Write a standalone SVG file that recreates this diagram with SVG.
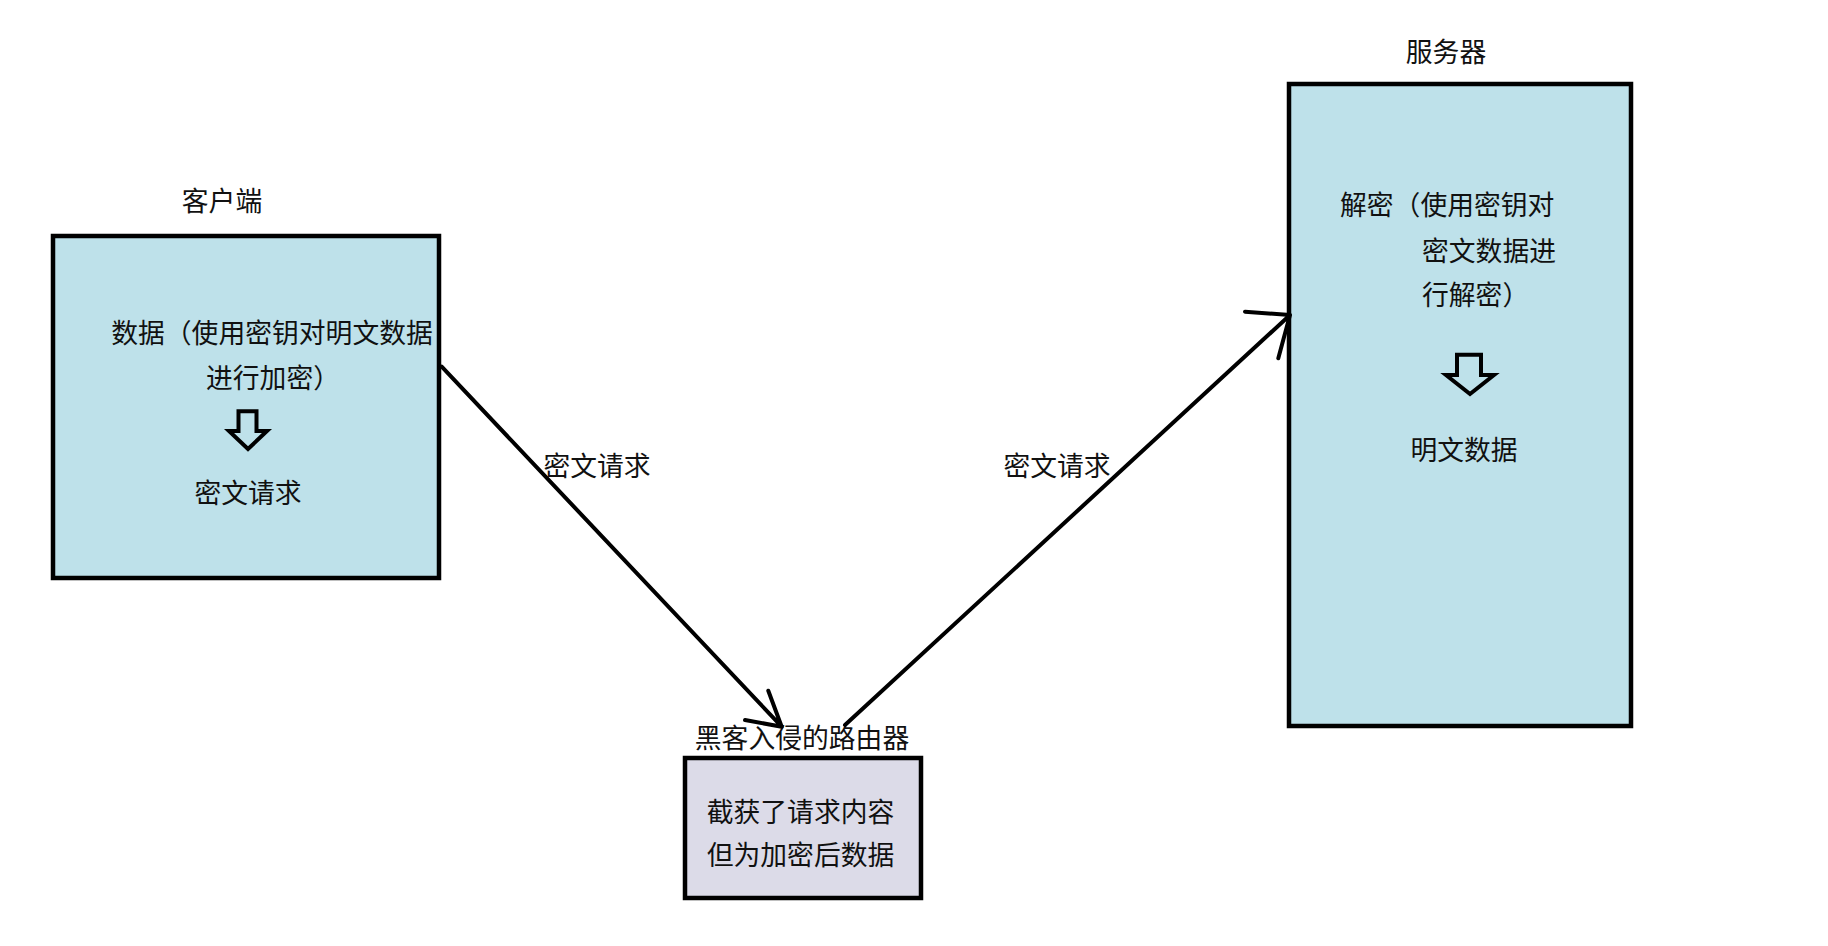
<svg xmlns="http://www.w3.org/2000/svg" width="1828" height="946" viewBox="0 0 1828 946">
<style>
text{font-family:"Noto Sans CJK SC","Noto Sans",sans-serif;font-size:26.8px;fill:#111}
.c{text-anchor:middle}
.box{stroke:#000;stroke-width:4.5}
.blue{fill:#bee1ea}
.lav{fill:#dcdbe8}
.harrow{fill:none;stroke:#000;stroke-width:4;stroke-linejoin:miter}
.conn{fill:none;stroke:#000;stroke-width:4;stroke-linecap:round;stroke-linejoin:round}
</style>
<rect width="1828" height="946" fill="#fff"/>
<g id="client">
<text class="c" x="222" y="211">客户端</text>
<rect class="box blue" x="53" y="236" width="386" height="342"/>
<text class="c" x="272" y="342.5">数据（使用密钥对明文数据</text>
<text class="c" x="273" y="388">进行加密）</text>
<polygon class="harrow" points="238.5,411.3 256.5,411.3 256.5,431 267,431 248,449 229,431 238.5,431"/>
<text class="c" x="248" y="502.5">密文请求</text>
</g>
<g id="server">
<text class="c" x="1446" y="62">服务器</text>
<rect class="box blue" x="1289" y="84" width="342" height="642"/>
<text x="1340" y="215">解密（使用密钥对</text>
<text x="1422" y="261">密文数据进</text>
<text x="1422" y="304.5">行解密）</text>
<polygon class="harrow" points="1457,354.7 1481,354.7 1481,375 1494,375 1470,394 1446,375 1457,375"/>
<text class="c" x="1464" y="460">明文数据</text>
</g>
<g id="router">
<text class="c" x="802" y="748">黑客入侵的路由器</text>
<rect class="box lav" x="685" y="758" width="236" height="140"/>
<text class="c" x="800.5" y="821.5">截获了请求内容</text>
<text class="c" x="800.5" y="864.5">但为加密后数据</text>
</g>
<g id="connectors">
<path class="conn" d="M441.7,366.7 L781.7,726.7 M745,720 L781.7,726.7 M768.3,690.7 L781.7,726.7"/>
<path class="conn" d="M845,725 L1290,315 M1245,311.7 L1290,315 M1278.3,358.3 L1290,315"/>
<text class="c" x="597" y="475.5">密文请求</text>
<text class="c" x="1057" y="475.5">密文请求</text>
</g>
</svg>
